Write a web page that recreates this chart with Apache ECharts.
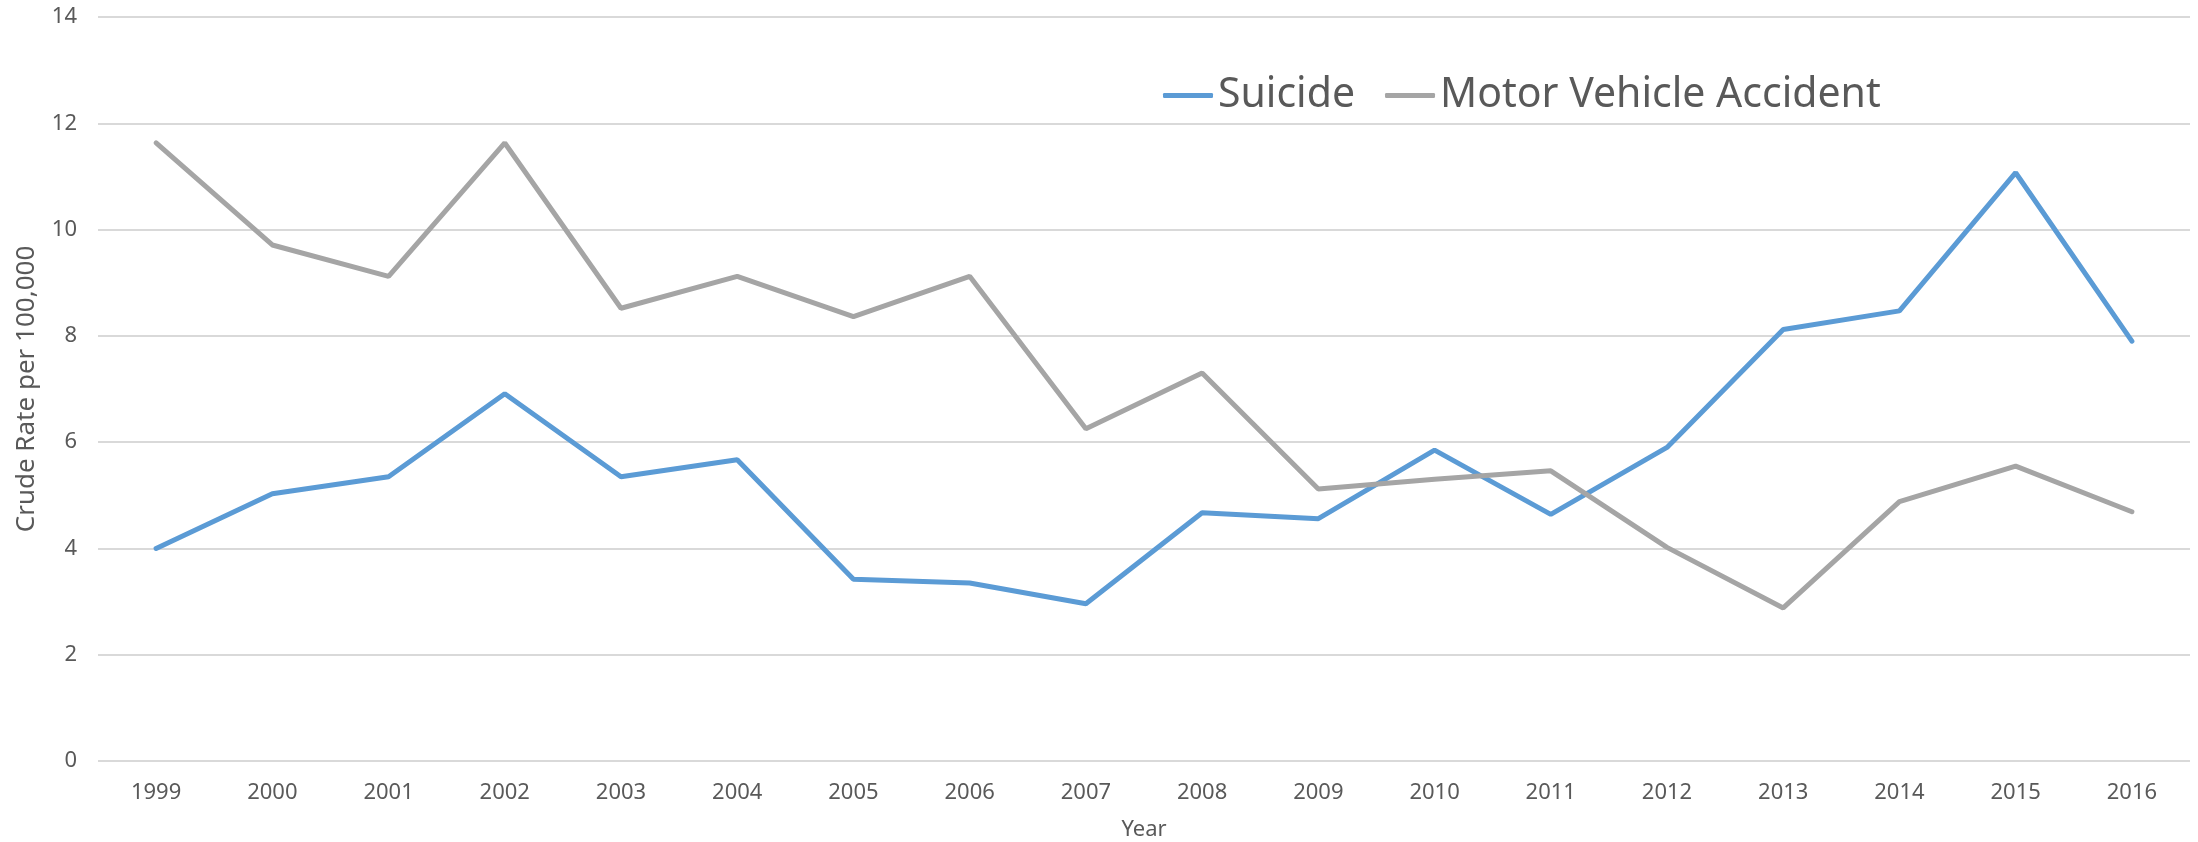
<!DOCTYPE html>
<html>
<head>
<meta charset="utf-8">
<script src="https://cdn.jsdelivr.net/npm/echarts@6/dist/echarts.min.js"></script>
<style>
  html, body { margin: 0; padding: 0; background: #fff; }
  #chartLine { width: 2198px; height: 842px; }
</style>
</head>
<body>
<div id="chartLine"></div>
<script>
var years = ['1999', '2000', '2001', '2002', '2003', '2004', '2005', '2006', '2007',
             '2008', '2009', '2010', '2011', '2012', '2013', '2014', '2015', '2016'];
var suicide = [4.0, 5.03, 5.35, 6.91, 5.35, 5.67, 3.42, 3.35, 2.96,
               4.67, 4.56, 5.85, 4.64, 5.9, 8.12, 8.47, 11.07, 7.9];
var motorVehicle = [11.63, 9.71, 9.12, 11.63, 8.52, 9.12, 8.36, 9.12, 6.25,
                    7.3, 5.12, 5.3, 5.46, 4.02, 2.88, 4.88, 5.55, 4.69];

var labelFont = '"Liberation Sans Narrow", "Noto Sans", sans-serif';
var textColor = '#595959';

var chartLine = echarts.init(document.getElementById('chartLine'));
chartLine.setOption({
  animation: false,
  grid: {
    left: 98,
    right: 8,
    top: 17,
    bottom: 81,
    outerBoundsMode: 'none'
  },
  legend: {
    left: 1158,
    top: 70,
    itemWidth: 50,
    itemHeight: 5,
    itemGap: 30,
    icon: 'roundRect',
    textStyle: {
      fontFamily: labelFont,
      fontSize: 41,
      color: textColor
    },
    data: ['Suicide', 'Motor Vehicle Accident']
  },
  xAxis: {
    type: 'category',
    data: years,
    name: 'Year',
    nameLocation: 'middle',
    nameGap: 58,
    nameTextStyle: { fontFamily: labelFont, fontSize: 22, color: textColor },
    axisLine: { show: false },
    axisTick: { show: false },
    axisLabel: { fontFamily: labelFont, fontSize: 22, color: textColor, margin: 21 }
  },
  yAxis: {
    type: 'value',
    min: 0,
    max: 14,
    interval: 2,
    name: 'Crude Rate per 100,000',
    nameLocation: 'middle',
    nameRotate: 90,
    nameGap: 58,
    nameTextStyle: { fontFamily: labelFont, fontSize: 26, color: textColor },
    axisLabel: { fontFamily: labelFont, fontSize: 22, color: textColor, margin: 21 },
    splitLine: { lineStyle: { color: '#d9d9d9', width: 2 } }
  },
  series: [
    {
      name: 'Suicide',
      type: 'line',
      data: suicide,
      showSymbol: false,
      lineStyle: { width: 5, color: '#5b9bd5', cap: 'round' },
      itemStyle: { color: '#5b9bd5' }
    },
    {
      name: 'Motor Vehicle Accident',
      type: 'line',
      data: motorVehicle,
      showSymbol: false,
      lineStyle: { width: 5, color: '#a5a5a5', cap: 'round' },
      itemStyle: { color: '#a5a5a5' }
    }
  ]
});
</script>
</body>
</html>
